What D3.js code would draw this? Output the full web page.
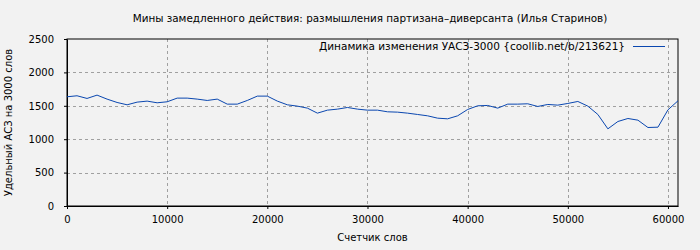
<!DOCTYPE html>
<html>
    <head>
        <meta charset="utf-8">
        <title>УАСЗ-3000</title>
        <script src="https://d3js.org/d3.v7.min.js"></script>
        <style>
            body {
                margin: 0;
                background: #f2f2f2;
            }
            svg text {
                font-family: "DejaVu Sans", sans-serif;
                font-size: 10px;
                fill: #000;
            }
            .axis path,
            .axis line {
                stroke: #000;
            }
            .grid line {
                stroke: #a0a0a0;
                stroke-dasharray: 3,3;
            }
        </style>
    </head>
    <body>
        <svg width="700" height="250"></svg>
        <script>
            // words counter (every 1000 words) and value per 3000 words
            var words = [0, 1000, 2000, 3000, 4000, 5000, 6000, 7000, 8000, 9000,
                10000, 11000, 12000, 13000, 14000, 15000, 16000, 17000, 18000, 19000,
                20000, 21000, 22000, 23000, 24000, 25000, 26000, 27000, 28000, 29000,
                30000, 31000, 32000, 33000, 34000, 35000, 36000, 37000, 38000, 39000,
                40000, 41000, 42000, 43000, 44000, 45000, 46000, 47000, 48000, 49000,
                50000, 51000, 52000, 53000, 54000, 55000, 56000, 57000, 58000, 59000,
                60000, 61000];
            var uasz = [1635, 1650, 1610, 1660, 1600, 1550, 1515, 1555, 1570, 1545,
                1560, 1615, 1615, 1600, 1580, 1600, 1525, 1525, 1580, 1645,
                1645, 1570, 1515, 1495, 1465, 1390, 1435, 1450, 1475, 1450,
                1435, 1435, 1410, 1405, 1390, 1370, 1350, 1315, 1305, 1350,
                1445, 1500, 1505, 1465, 1525, 1525, 1530, 1490, 1520, 1510,
                1535, 1565, 1495, 1370, 1155, 1265, 1310, 1285, 1175, 1180,
                1440, 1575];
            var xTicks = [0, 10000, 20000, 30000, 40000, 50000, 60000];
            var yTicks = [0, 500, 1000, 1500, 2000, 2500];

            var title = "Мины замедленного действия: размышления партизана–диверсанта (Илья Старинов)";
            var seriesName = "Динамика изменения УАСЗ-3000 {coollib.net/b/213621}";
            var xTitle = "Счетчик слов";
            var yTitle = "Удельный АСЗ на 3000 слов";

            var margin = {top: 39, right: 22, bottom: 44, left: 67};
            var width = 700 - margin.left - margin.right;
            var height = 250 - margin.top - margin.bottom;

            var svg = d3.select("svg");
            var g = svg.append("g")
                .attr("transform", "translate(" + margin.left + "," + margin.top + ")");

            var data = words.map((w, i) => ({x: w, y: uasz[i]}));

            var xScale = d3.scaleLinear().domain([0, 61000]).range([0, width]);
            var yScale = d3.scaleLinear().domain([0, 2500]).range([height, 0]);

            // dashed grid
            g.append("g").attr("class", "grid")
                .selectAll("line")
                .data(xTicks.filter(d => d > 0))
              .enter().append("line")
                .attr("x1", d => Math.round(xScale(d)) + 0.5)
                .attr("x2", d => Math.round(xScale(d)) + 0.5)
                .attr("y1", 0).attr("y2", height);
            g.append("g").attr("class", "grid")
                .selectAll("line")
                .data(yTicks.filter(d => d > 0 && d < 2500))
              .enter().append("line")
                .attr("y1", d => Math.round(yScale(d)) + 0.5)
                .attr("y2", d => Math.round(yScale(d)) + 0.5)
                .attr("x1", 0).attr("x2", width);

            // axes
            var fmt = d3.format("d");
            g.append("g").attr("class", "axis")
                .attr("transform", "translate(0," + height + ")")
                .call(d3.axisBottom(xScale).tickValues(xTicks).tickFormat(fmt)
                    .tickSize(3).tickPadding(7).tickSizeOuter(0));
            g.append("g").attr("class", "axis")
                .call(d3.axisLeft(yScale).tickValues(yTicks).tickFormat(fmt)
                    .tickSize(3).tickPadding(10).tickSizeOuter(0));
            g.selectAll(".axis text").style("font-size", "10px").style("font-family", "'DejaVu Sans', sans-serif");

            // frame
            g.append("rect")
                .attr("x", 0).attr("y", 0)
                .attr("width", width).attr("height", height)
                .attr("fill", "none")
                .attr("stroke", "#000")
                .attr("stroke-width", 1);

            // series
            var line = d3.line().x(d => xScale(d.x)).y(d => yScale(d.y));
            g.append("path")
                .datum(data)
                .attr("fill", "none")
                .attr("stroke", "#0a47b0")
                .attr("stroke-width", 1)
                .attr("d", line);

            // legend
            g.append("text")
                .attr("x", 558).attr("y", 11)
                .attr("text-anchor", "end")
                .style("font-size", "10.5px")
                .text(seriesName);
            g.append("line")
                .attr("x1", 566).attr("x2", 598)
                .attr("y1", 7.5).attr("y2", 7.5)
                .attr("stroke", "#0a47b0");

            // titles
            svg.append("text")
                .attr("x", 370).attr("y", 22)
                .attr("text-anchor", "middle")
                .style("font-size", "10.4px")
                .text(title);
            svg.append("text")
                .attr("x", margin.left + width / 2).attr("y", 241)
                .attr("text-anchor", "middle")
                .text(xTitle);
            svg.append("text")
                .attr("transform", "translate(12," + (margin.top + height / 2) + ") rotate(-90)")
                .attr("text-anchor", "middle")
                .text(yTitle);
        </script>
    </body>
</html>
